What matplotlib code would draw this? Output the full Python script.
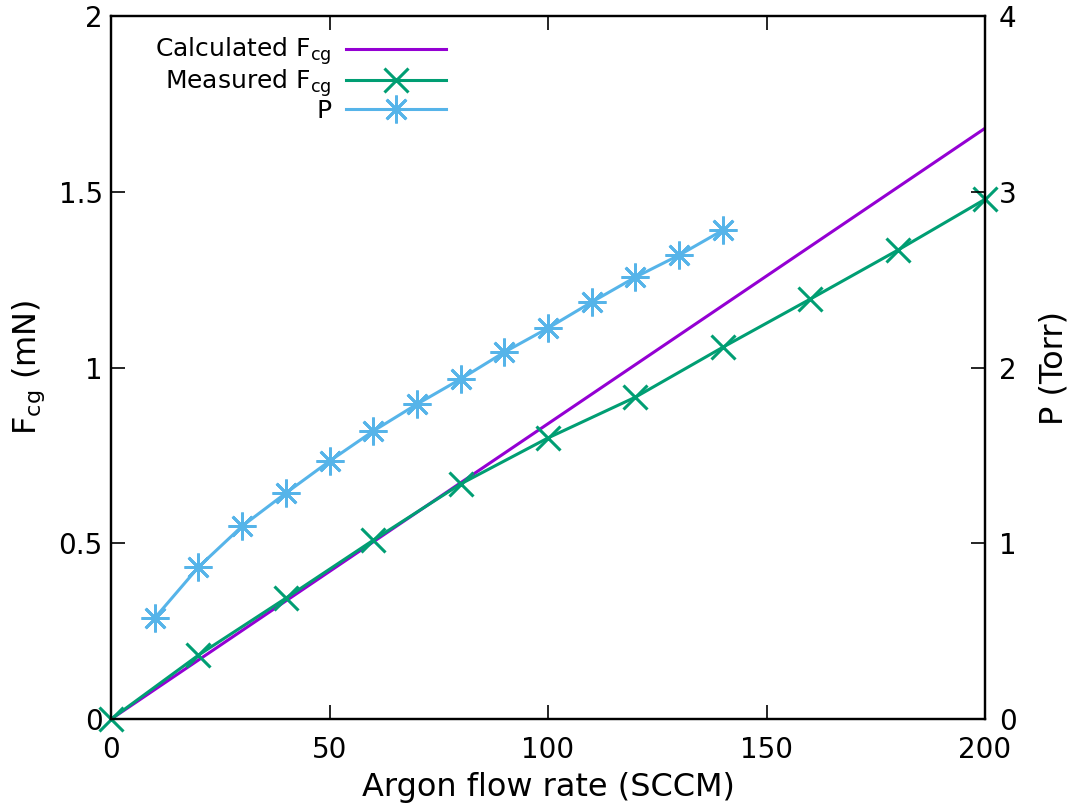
import numpy as np
import matplotlib
matplotlib.use('Agg')
import matplotlib.pyplot as plt

# values
flow_meas = [0, 20, 40, 60, 80, 100, 120, 140, 160, 180, 200]
f_meas = [0.0, 0.182, 0.344, 0.509, 0.669, 0.80, 0.916, 1.058, 1.195, 1.334, 1.479]

flow_calc = [0, 200]
f_calc = [0.0, 1.681]

flow_p = [10, 20, 30, 40, 50, 60, 70, 80, 90, 100, 110, 120, 130, 140]
pressure = [0.575, 0.865, 1.098, 1.286, 1.468, 1.639, 1.792, 1.935, 2.088,
            2.225, 2.373, 2.515, 2.640, 2.782]

purple = '#9400d3'
green = '#009e73'
blue = '#56b4e9'

plt.rcParams['font.family'] = 'DejaVu Sans'

fig = plt.figure(figsize=(10.75, 8.08), dpi=100)
ax = fig.add_axes([0.1033, 0.110, 0.8130, 0.870])
ax2 = ax.twinx()

l1, = ax.plot(flow_calc, f_calc, color=purple, lw=2.2, label='Calculated F$_{\\rm cg}$')
l2, = ax.plot(flow_meas, f_meas, color=green, lw=2.2, marker='x', ms=17, mew=2.2,
              label='Measured F$_{\\rm cg}$', clip_on=False)
l3, = ax2.plot(flow_p, pressure, color=blue, lw=2.2, marker=(8, 2, 0), ms=20, mew=2.0,
               label='P')

ax.set_xlim(0, 200)
ax.set_ylim(0, 2)
ax2.set_ylim(0, 4)
ax.set_xticks([0, 50, 100, 150, 200])
ax.set_yticks([0, 0.5, 1, 1.5, 2])
ax.set_yticklabels(['0', '0.5', '1', '1.5', '2'])
ax2.set_yticks([0, 1, 2, 3, 4])

ax.tick_params(direction='in', length=10, width=1.2, labelsize=20, top=True, pad=6)
ax.tick_params(axis='x', pad=12)
ax2.tick_params(direction='in', length=10, width=1.2, labelsize=20, pad=10)
for a in (ax, ax2):
    for s in a.spines.values():
        s.set_linewidth(1.6)

ax.set_xlabel('Argon flow rate (SCCM)', fontsize=23, labelpad=6)
ax.set_ylabel('F$_{\\rm cg}$ (mN)', fontsize=23, labelpad=8)
ax2.set_ylabel('P (Torr)', fontsize=23, labelpad=16)

leg = ax.legend(handles=[l1, l2, l3], loc='upper left', bbox_to_anchor=(0.03, 0.997),
                frameon=False, markerfirst=False, fontsize=18, handlelength=4.0,
                labelspacing=0.0, borderaxespad=0.3, handletextpad=0.6)
for t in leg.get_texts():
    t.set_ha('right')
leg._legend_box.align = 'right'

fig.savefig('out.png', dpi=100)
